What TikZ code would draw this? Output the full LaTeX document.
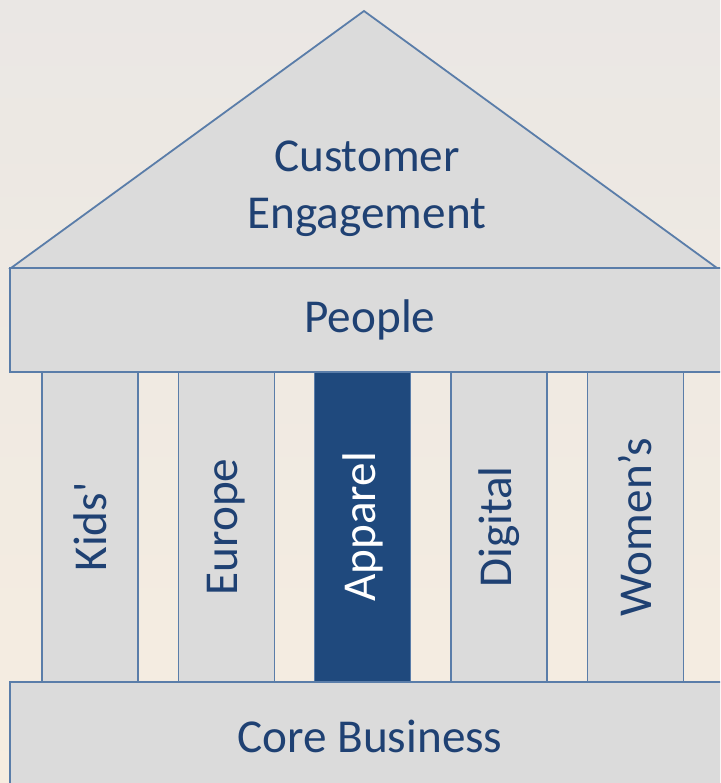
\documentclass[tikz,border=0pt]{standalone}
\usepackage{fontspec}
\setmainfont{Carlito}
\usetikzlibrary{positioning}
\definecolor{slab}{HTML}{DBDBDB}
\definecolor{rim}{HTML}{5A7DA9}
\definecolor{ink}{HTML}{1F4173}
\definecolor{navy}{HTML}{1F497D}
\definecolor{paperA}{HTML}{EAE7E4}
\definecolor{paperB}{HTML}{F6EDE0}
\tikzset{
    block/.style={draw=rim, fill=slab, line width=0.9pt, inner sep=0pt, text=ink, font=\fontsize{23.6}{28.5}\selectfont},
    slabbox/.style={block, minimum width=360pt, minimum height=52pt},
    pillar/.style={block, rotate=90, minimum width=155pt, minimum height=48pt},
    chosen/.style={fill=navy, text=white}
}

\begin{document}
\begin{tikzpicture}[x=0.5pt, y=-0.5pt]
    \useasboundingbox (0,0) rectangle (720,783);
    \clip (0,0) rectangle (720,783);
    \shade[top color=paperA, bottom color=paperB] (0,0) rectangle (720,783);

    % roof
    \coordinate (apex) at (364,11);
    \coordinate (eaveL) at (11,268);
    \coordinate (eaveR) at (717,268);
    \draw[block] (eaveL) -- (apex) -- (eaveR) -- cycle;
    \node[text=ink, font=\fontsize{23.6}{28.5}\selectfont, align=center] (roof) at (367,189) {Customer\\Engagement};

    % pillars
    \node[pillar] (kids) at (90,527) {Kids\textquotesingle};
    \node[pillar] (europe) at (226.5,527) {Europe};
    \node[pillar, chosen] (apparel) at (362.5,527) {Apparel};
    \node[pillar] (digital) at (499,527) {Digital};
    \node[pillar] (womens) at (635.5,527) {Women’s};

    % beam and base
    \node[slabbox] (people) at (370,320) {\raisebox{-2pt}{People}};
    \node[slabbox, minimum height=54pt] (core) at (370,736) {Core Business};
\end{tikzpicture}
\end{document}
